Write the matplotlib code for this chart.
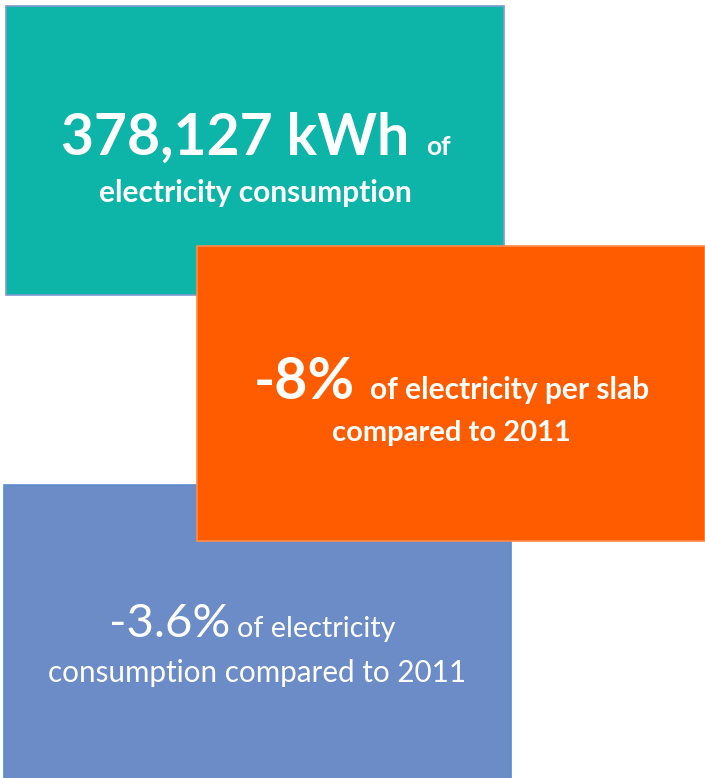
import matplotlib
matplotlib.use("Agg")
import matplotlib.pyplot as plt
from matplotlib.patches import Rectangle

W, H = 705, 778

# box contents
box_names = ["total", "per_slab", "change"]
box_colors = ["#0DB4A8", "#FF5C00", "#6C8CC7"]
box_edges = ["#7E9ACF", "#FF8A4A", "#5C8BD0"]

line1_big = ["378,127 kWh", "-8%", "-3.6%"]
line1_small = ["of", "of electricity per slab", "of electricity"]
line2 = ["electricity consumption", "compared to 2011", "consumption compared to 2011"]
weights = ["bold", "bold", "normal"]

# layout (pixels)
boxes = [(6, 6, 498, 289), (197, 246, 508, 295), (4, 485, 507, 300)]
zorders = [1, 3, 2]
big_sizes = [41, 41, 34]
small_sizes = [19, 21.5, 20.7]
line2_sizes = [21.5, 21, 21.3]
baselines1 = [155, 399, 637]
baselines2 = [202, 441, 682]
gaps = [17, 15, 7]
line1_shift = [1, 0, -5]

FONT = "Lato"

fig = plt.figure(figsize=(W / 100, H / 100), dpi=100)
ax = fig.add_axes([0, 0, 1, 1])
ax.set_xlim(0, W)
ax.set_ylim(H, 0)
ax.axis("off")
renderer = fig.canvas.get_renderer()


def text_width(t):
    bb = t.get_window_extent(renderer=renderer)
    return bb.width


for i in range(len(box_names)):
    x, y, w, h = boxes[i]
    z = zorders[i]
    ax.add_patch(Rectangle((x, y), w, h, facecolor=box_colors[i],
                           edgecolor=box_edges[i], linewidth=1.2, zorder=z))
    cx = x + w / 2

    # first line: big number + small text, centred as a group
    t1 = ax.text(0, baselines1[i], line1_big[i], fontsize=big_sizes[i],
                 fontweight=weights[i], family=FONT, color="white",
                 ha="left", va="baseline", zorder=z + 0.5)
    t2 = ax.text(0, baselines1[i], line1_small[i], fontsize=small_sizes[i],
                 fontweight=weights[i], family=FONT, color="white",
                 ha="left", va="baseline", zorder=z + 0.5)
    w1 = text_width(t1)
    w2 = text_width(t2)
    start = cx + line1_shift[i] - (w1 + gaps[i] + w2) / 2
    t1.set_x(start)
    t2.set_x(start + w1 + gaps[i])

    ax.text(cx, baselines2[i], line2[i], fontsize=line2_sizes[i],
            fontweight=weights[i], family=FONT, color="white",
            ha="center", va="baseline", zorder=z + 0.5)

fig.savefig("out.png", dpi=100)
